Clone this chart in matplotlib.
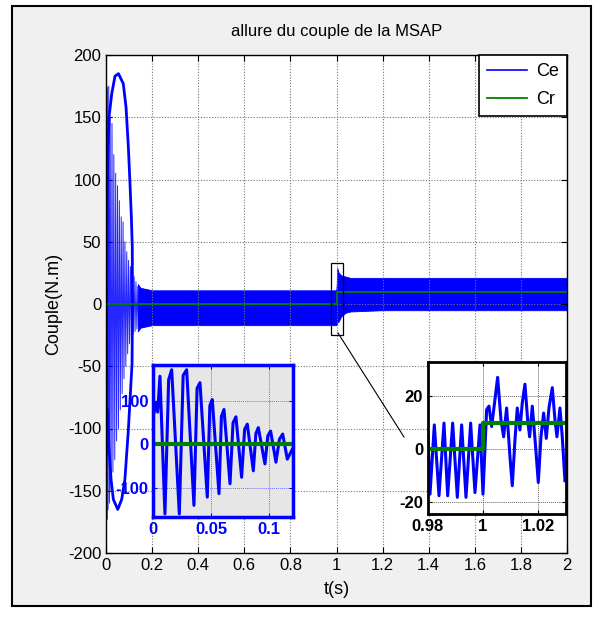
import matplotlib
matplotlib.use("Agg")
import matplotlib.pyplot as plt
from matplotlib.patches import Rectangle
from matplotlib.lines import Line2D
from matplotlib import font_manager

names = {f.name for f in font_manager.fontManager.ttflist}
fam = [f for f in ["Liberation Sans Narrow", "Liberation Sans", "DejaVu Sans"] if f in names]
plt.rcParams['font.family'] = fam
plt.rcParams['axes.unicode_minus'] = False

# ---------------- data ----------------
title = "allure du couple de la MSAP"
xlabel = "t(s)"
ylabel = "Couple(N.m)"
main_xticks = [0, 0.2, 0.4, 0.6, 0.8, 1, 1.2, 1.4, 1.6, 1.8, 2]
main_xlabels = ["0", "0.2", "0.4", "0.6", "0.8", "1", "1.2", "1.4", "1.6", "1.8", "2"]
main_yticks = [-200, -150, -100, -50, 0, 50, 100, 150, 200]

# early start-up oscillations of Ce (main plot)
spike_t = [0.000, 0.002, 0.004, 0.006, 0.009, 0.012, 0.015, 0.018,
           0.022, 0.026, 0.030, 0.034, 0.038, 0.042, 0.046, 0.050, 0.054, 0.058,
           0.062, 0.066, 0.070, 0.074, 0.078, 0.082, 0.086, 0.090, 0.094, 0.098,
           0.102, 0.106, 0.110, 0.114, 0.118, 0.122, 0.126, 0.130, 0.134, 0.138, 0.142]
spike_v = [0, 160, -173, 174, -165, 175, -160, 150,
           -150, 145, -135, 120, -125, 105, -110, 95, -100, 83,
           -85, 70, -72, 66, -60, 50, -50, 42, -40, 35,
           -32, 30, -28, 25, -24, 22, -22, 18, -20, 14, -18]

# large transient loop of Ce
loop_t = [0.004, 0.003, 0.003, 0.004, 0.007, 0.013, 0.025, 0.039, 0.054, 0.075,
          0.087, 0.097, 0.104, 0.110, 0.114, 0.115, 0.113, 0.097, 0.082, 0.068,
          0.051, 0.032, 0.022, 0.013, 0.007, 0.004]
loop_v = [-120, -50, 0, 60, 110, 150, 169, 183, 185, 177,
          158, 126, 97, 70, 46, 0, -48, -101, -141, -157,
          -165, -157, -141, -115, -85, -120]

# steady-state ripple band of Ce (upper / lower envelope)
band_t  = [0.138, 0.15, 0.2, 0.4, 0.6, 0.8, 0.999, 1.001, 1.003, 1.01, 1.02, 1.04, 1.06, 1.2, 1.5, 2.0]
band_hi = [16, 13, 11, 11, 11, 11, 11, 16, 29, 25, 23, 22, 21, 21, 21, 21]
band_lo = [-22, -19, -17, -17, -17, -17, -17, -17, -15, -14, -10, -7, -6, -5, -5, -5]

# load torque Cr
cr_t = [0, 1.0, 1.0, 2.0]
cr_v = [0, 0, 10, 10]

# inset 1 : start-up zoom
z1_t = [0.0009, 0.0026, 0.0040, 0.0060, 0.0103, 0.0135, 0.0161, 0.0227, 0.0260, 0.0290,
        0.0353, 0.0380, 0.0405, 0.0468, 0.0490, 0.0511, 0.0569, 0.0590, 0.0612, 0.0664,
        0.0690, 0.0715, 0.0764, 0.0790, 0.0813, 0.0865, 0.0887, 0.0908, 0.0965, 0.0990,
        0.1014, 0.1060, 0.1090, 0.1118, 0.1158, 0.1204]
z1_v = [74, 95, 75, 158, -161, 150, 173, -161, 160, 173,
        -141, 130, 143, -122, 90, 104, -114, 65, 81, -91,
        50, 64, -76, 35, 47, -61, 25, 39, -45, 20,
        31, -41, 12, 24, -34, -10]
z1_cr_t = [0, 0.1207]
z1_cr_v = [0, 0]
z1_xticks = [0, 0.05, 0.1]
z1_xlabels = ["0", "0.05", "0.1"]
z1_yticks = [-100, 0, 100]

# inset 2 : load step zoom
z2_t = [0.98000, 0.98073, 0.98230, 0.98400, 0.98582, 0.98715, 0.98897, 0.99067, 0.99224,
        0.99382, 0.99551, 0.99709, 0.99891, 1.00000,
        1.00133, 1.00218, 1.00315, 1.00436, 1.00533, 1.00654, 1.00751, 1.00860, 1.00982,
        1.01066, 1.01163, 1.01248, 1.01345, 1.01430, 1.01527, 1.01624, 1.01697, 1.01794,
        1.01915, 1.02012, 1.02109, 1.02206, 1.02303, 1.02400, 1.02521, 1.02618, 1.02690,
        1.02800, 1.02884, 1.02981]
z2_v = [5.0, -17.0, 9.2, -17.6, 9.9, -17.6, 9.9, -18.2, 9.2,
        -18.2, 9.9, -16.4, 9.2, -17.0,
        15.0, 16.3, 8.6, 18.8, 27.2, 11.2, 4.7, 15.6, -2.9,
        -13.8, 3.5, 15.6, 7.3, 17.6, 24.6, 11.2, 4.7, 16.3,
        0.9, -12.6, 4.7, 13.7, 4.1, 15.6, 23.3, 11.2, 4.7,
        15.6, 4.7, -11.9]
z2_cr_t = [0.98, 1.0, 1.0, 1.0302]
z2_cr_v = [0, 0, 10, 10]
z2_xticks = [0.98, 1.0, 1.02]
z2_xlabels = ["0.98", "1", "1.02"]
z2_yticks = [-20, 0, 20]
z2_xlim = (0.98, 1.0302)
z2_ylim = (-24.5, 33)

# ---------------- figure ----------------
W, H = 601, 626
fig = plt.figure(figsize=(W / 100, H / 100), dpi=100)
fig.patch.set_facecolor("white")
bg = Rectangle((12 / W, 1 - 606 / H), (591 - 12) / W, (606 - 6) / H,
               transform=fig.transFigure, facecolor="#f0f0f0",
               edgecolor="black", linewidth=1.5, zorder=-10)
fig.patches.append(bg)

BLUE = "#0000ff"
GREEN = "#008000"

ax = fig.add_axes([106 / W, 1 - 553 / H, 461 / W, 498 / H])
ax.set_facecolor("white")
ax.plot(spike_t, spike_v, color=BLUE, lw=0.7, alpha=0.85)
ax.plot(loop_t, loop_v, color=BLUE, lw=2.0)
ax.fill_between(band_t, band_lo, band_hi, color=BLUE, lw=0.6, edgecolor=BLUE)
ax.plot([], [], color=BLUE, lw=1.2, label="Ce")
ax.plot(cr_t, cr_v, color=GREEN, lw=1.3, label="Cr")
ax.set_xlim(0, 2)
ax.set_ylim(-200, 200)
ax.set_xticks(main_xticks)
ax.set_xticklabels(main_xlabels)
ax.set_yticks(main_yticks)
ax.tick_params(direction="in", top=True, right=True, labelsize=12, length=4)
ax.grid(True, color="#777777", linestyle=(0, (1, 1.5)), linewidth=0.8)
for s in ax.spines.values():
    s.set_linewidth(1.0)
ax.set_title(title, fontsize=12, pad=14)
ax.set_xlabel(xlabel, fontsize=13, labelpad=6)
ax.set_ylabel(ylabel, fontsize=13, labelpad=4)
leg = ax.legend(loc="upper right", fontsize=13, fancybox=False, framealpha=1,
                edgecolor="black", borderaxespad=0, handlelength=2.2,
                handletextpad=0.5, borderpad=0.45, labelspacing=0.6)
leg.get_frame().set_linewidth(1.2)

# zoom rectangle on main plot
ax.add_patch(Rectangle((z2_xlim[0] - 0.004, z2_ylim[0]), z2_xlim[1] - z2_xlim[0] + 0.004,
                       z2_ylim[1] - z2_ylim[0], fill=False, edgecolor="black", lw=0.9, zorder=5))

# inset 1
ax1 = fig.add_axes([153 / W, 1 - 517 / H, 140 / W, 152 / H])
ax1.set_facecolor("#e6e6e6")
ax1.plot(z1_t, z1_v, color=BLUE, lw=2.2)
ax1.plot(z1_cr_t, z1_cr_v, color=GREEN, lw=3)
ax1.set_xlim(0, 0.1207)
ax1.set_ylim(-168, 184)
ax1.set_xticks(z1_xticks)
ax1.set_xticklabels(z1_xlabels)
ax1.set_yticks(z1_yticks)
ax1.tick_params(direction="in", top=True, right=True, labelsize=12, colors=BLUE, length=3)
for lab in ax1.get_xticklabels() + ax1.get_yticklabels():
    lab.set_fontweight("bold")
ax1.grid(True, color="#7070ff", linestyle=(0, (1, 1)), linewidth=0.7)
for s in ax1.spines.values():
    s.set_color(BLUE)
    s.set_linewidth(2.5)

# inset 2
ax2 = fig.add_axes([428 / W, 1 - 514 / H, 138 / W, 152 / H])
ax2.set_facecolor("white")
ax2.plot(z2_t, z2_v, color=BLUE, lw=2.2)
ax2.plot(z2_cr_t, z2_cr_v, color=GREEN, lw=3)
ax2.set_xlim(*z2_xlim)
ax2.set_ylim(*z2_ylim)
ax2.set_xticks(z2_xticks)
ax2.set_xticklabels(z2_xlabels)
ax2.set_yticks(z2_yticks)
ax2.tick_params(direction="in", top=True, right=True, labelsize=12, length=3)
for lab in ax2.get_xticklabels() + ax2.get_yticklabels():
    lab.set_fontweight("bold")
ax2.grid(True, color="#666666", linestyle=(0, (1, 1)), linewidth=0.7)
for s in ax2.spines.values():
    s.set_linewidth(2.0)

# connector from rectangle to inset 2
fig.lines.append(Line2D([338 / W, 404 / W], [1 - 333 / H, 1 - 437 / H],
                        transform=fig.transFigure, color="black", lw=0.8, zorder=10))

fig.savefig("out.png", dpi=100, facecolor=fig.get_facecolor())
